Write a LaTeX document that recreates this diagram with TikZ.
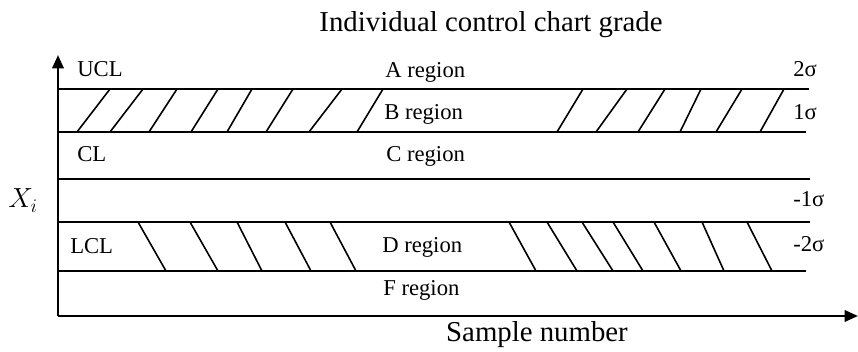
\documentclass[tikz,border=0pt]{standalone}
\usepackage{fontspec}
\setmainfont{Liberation Serif}
\usetikzlibrary{arrows.meta}
\begin{document}
\begin{tikzpicture}[x=0.75pt,y=-0.75pt,
  band/.style={line width=1.8pt},
  hatch/.style={line width=1.2pt},
  axis/.style={line width=1.8pt,-{Triangle[length=10pt,width=8.5pt]}},
  lbl/.style={anchor=base west,inner sep=0pt,font=\fontsize{17pt}{19pt}\selectfont},
  big/.style={anchor=base,inner sep=0pt,font=\fontsize{21.6pt}{24pt}\selectfont}]
\useasboundingbox (0,0) rectangle (858,352);
% axes
\coordinate (O) at (58,316);
\coordinate (Ytop) at (58,55);
\coordinate (Xend) at (858,316);
\draw[axis] (O) -- (Ytop);
\draw[axis] (O) -- (Xend);
% band lines
\draw[band] (58,89) -- (809,89);
\draw[band] (58,132) -- (806,132);
\draw[band] (58,179) -- (810,179);
\draw[band] (58,222) -- (810,222);
\draw[band] (58,271) -- (806,271);
% hatching B region
\foreach \t/\b in {110/77,143/110,177/149,218/191,252/227,293/266,342/309,383/357,
                   583/557,627/596,665/638,701/680,742/716,784/760}
  \draw[hatch] (\t,89) -- (\b,132);
% hatching D region
\foreach \t/\b in {138/166,190/218,237/262,285/311,330/356,
                   509/536,547/577,582/613,613/643,654/681,702/724,747/772}
  \draw[hatch] (\t,222) -- (\b,271);
% texts
\node[big] (title) at (491,32) {Individual control chart grade};
\node[big] (xlab) at (537,342) {Sample number};
\node[anchor=base west,inner sep=0pt,font=\fontsize{20.5pt}{22pt}\selectfont] (ylab) at (8,208) {$X_i$};
\node[lbl] (ucl) at (77,77) {UCL};
\node[lbl] (cl) at (77,162) {CL};
\node[lbl] (lcl) at (70,254) {LCL};
\node[lbl] (ra) at (385,78) {A region};
\node[lbl] (rb) at (384,120) {B region};
\node[lbl] (rc) at (386,162) {C region};
\node[lbl] (rd) at (382,253) {D region};
\node[lbl] (rf) at (383,296) {F region};
\node[lbl] (s2) at (793,77) {2σ};
\node[lbl] (s1) at (793,120) {1σ};
\node[lbl] (sm1) at (793,207) {-1σ};
\node[lbl] (sm2) at (793,252) {-2σ};
\end{tikzpicture}
\end{document}
